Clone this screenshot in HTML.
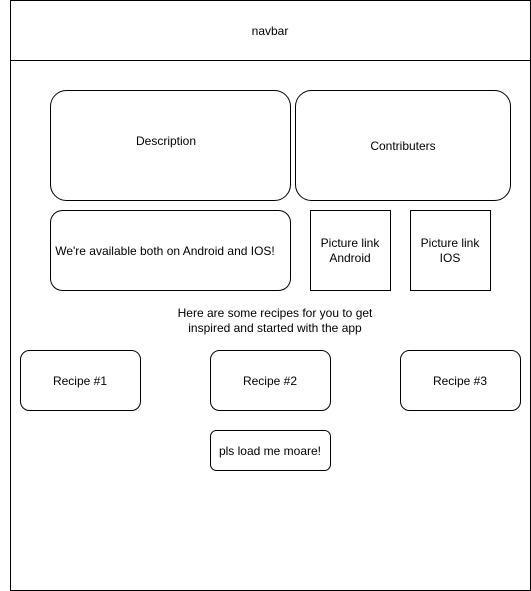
<!DOCTYPE html>
<html><head><style>body{margin:0;background:#fff}svg{display:block}text{font-family:"Liberation Sans",Arial,sans-serif;font-size:12px;fill:#000}</style></head><body>
<svg width="531" height="591" xmlns="http://www.w3.org/2000/svg">
<g fill="none" stroke="#000" stroke-width="1">
<rect x="10.5" y="0.5" width="520" height="590"/>
<line x1="10.5" y1="60.5" x2="530.5" y2="60.5"/>
<rect x="50.5" y="90.5" width="240" height="110" rx="16"/>
<rect x="295.5" y="90.5" width="215" height="110" rx="16"/>
<rect x="50.5" y="210.5" width="240" height="80" rx="12"/>
<rect x="310.5" y="210.5" width="80" height="80"/>
<rect x="410.5" y="210.5" width="80" height="80"/>
<rect x="20.5" y="350.5" width="120" height="60" rx="9"/>
<rect x="210.5" y="350.5" width="120" height="60" rx="9"/>
<rect x="400.5" y="350.5" width="120" height="60" rx="9"/>
<rect x="210.5" y="430.5" width="120" height="40" rx="6"/>
</g>
<g text-anchor="middle">
<text x="270" y="35">navbar</text>
<text x="166" y="145">Description</text>
<text x="403" y="150">Contributers</text>
<text x="165" y="255">We're available both on Android and IOS!</text>
<text x="350" y="247">Picture link</text>
<text x="350" y="262">Android</text>
<text x="450" y="247">Picture link</text>
<text x="450" y="262">IOS</text>
<text x="275" y="317">Here are some recipes for you to get</text>
<text x="275" y="332">inspired and started with the app</text>
<text x="80" y="385">Recipe #1</text>
<text x="270" y="385">Recipe #2</text>
<text x="460" y="385">Recipe #3</text>
<text x="270" y="455">pls load me moare!</text>
</g>
</svg>
</body></html>
